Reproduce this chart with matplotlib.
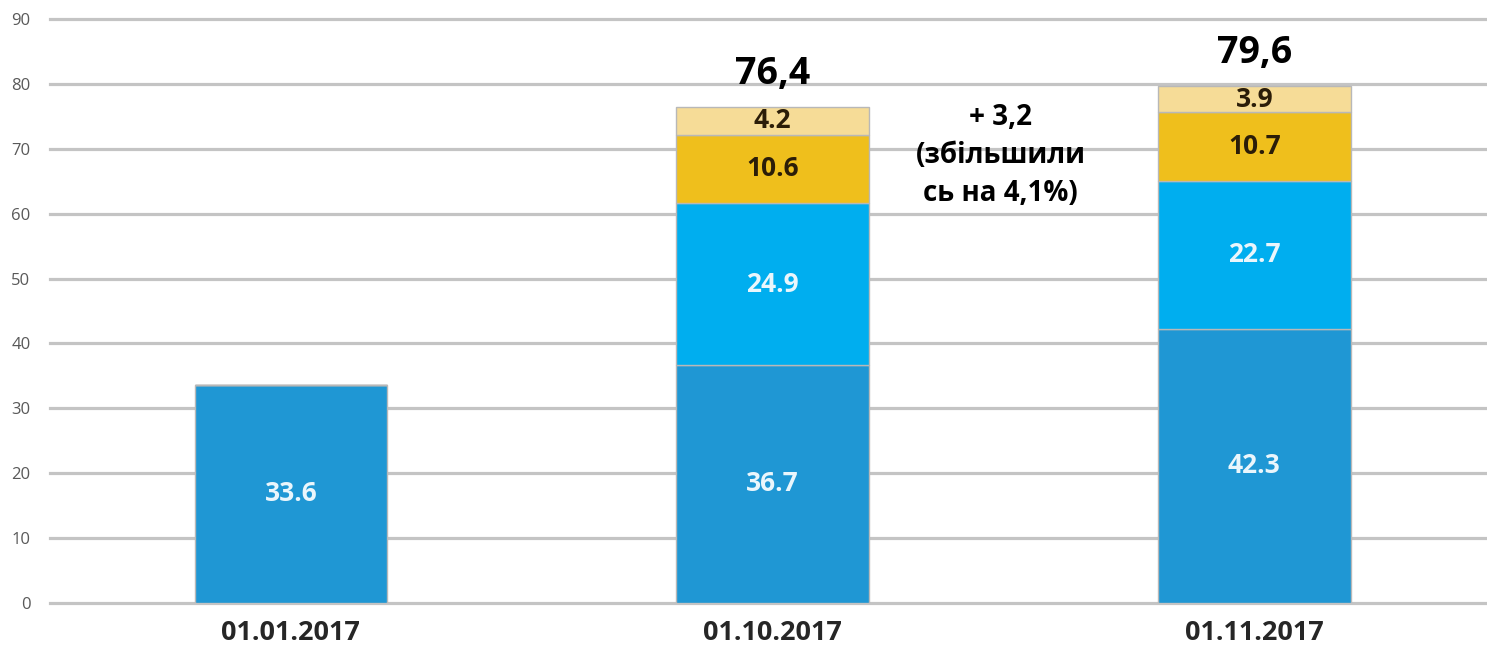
"""Stacked bars: 01.01.2017 / 01.10.2017 / 01.11.2017."""
import matplotlib
matplotlib.use("Agg")
import matplotlib.pyplot as plt
import numpy as np

dates = ["01.01.2017", "01.10.2017", "01.11.2017"]
base = [33.6, 36.7, 42.3]
second = [0, 24.9, 22.7]
third = [0, 10.6, 10.7]
fourth = [0, 4.2, 3.9]
totals = ["", "76,4", "79,6"]
note = "+ 3,2\n(збільшили\nсь на 4,1%)"
yticks = list(range(0, 91, 10))

COLORS = ["#1f97d4", "#00aeef", "#efbf1c", "#f6dc97"]
TXT = ["#eaf6fc", "#eaf6fc", "#2b1d08", "#2b1d08"]
FONT = ["Open Sans", "DejaVu Sans"]
plt.rcParams["font.family"] = FONT

fig = plt.figure(figsize=(14.87, 6.51), dpi=100)
ax = fig.add_axes([50 / 1487, 48 / 651, 1 - 50 / 1487, 584 / 651])

x = np.arange(len(dates))
bottom = np.zeros(len(dates))
for vals, c, tc in zip([base, second, third, fourth], COLORS, TXT):
    vals = np.array(vals, dtype=float)
    ax.bar(x, vals, 0.4, bottom=bottom, color=c, edgecolor="#b8b8b8",
           linewidth=1, zorder=3)
    for i, v in enumerate(vals):
        if v > 0:
            ax.text(x[i], bottom[i] + v / 2, f"{v:.1f}", ha="center", va="center",
                    fontsize=19, fontweight="bold", color=tc, zorder=4)
    bottom += vals

for i, t in enumerate(totals):
    if t:
        ax.text(x[i], bottom[i] + 3.6, t, ha="center", va="baseline",
                fontsize=27, fontweight="bold", color="black")

ax.text(1.473, 69.0, note, ha="center", va="center", fontsize=20,
        fontweight="bold", color="black", linespacing=1.4)

ax.set_xlim(-0.5, 2.483)
ax.set_ylim(0, 90)
ax.set_yticks(yticks)
ax.yaxis.grid(True, color="#c4c4c4", linewidth=2.3, zorder=0)
ax.set_axisbelow(True)
for gl in ax.yaxis.get_gridlines():
    gl.set_clip_on(False)
ax.set_xticks(x)
ax.set_xticklabels(dates, fontsize=19.5, fontweight="bold", color="#262626")
ax.tick_params(axis="y", labelsize=12, colors="#595959", length=0, pad=14)
ax.tick_params(axis="x", length=0, pad=12)
for s in ax.spines.values():
    s.set_visible(False)

fig.savefig("out.png", dpi=100)
